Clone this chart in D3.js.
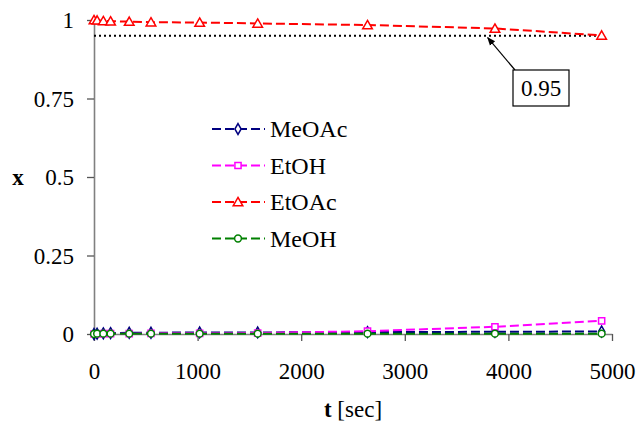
<!DOCTYPE html>
<html>
<head>
<meta charset="utf-8">
<script src="https://cdn.jsdelivr.net/npm/d3@7/dist/d3.min.js"></script>
<style>
  html, body { margin: 0; padding: 0; background: #fff; }
  svg, svg text { font-family: "Liberation Serif", "Times New Roman", serif !important; }
</style>
</head>
<body>
<svg id="chart" width="637" height="427"></svg>
<script>
// ---- data ----
const times   = [0, 30, 90, 160, 340, 550, 1020, 1580, 2640, 3870, 4900];
const meoac   = [0, 0.001, 0.002, 0.003, 0.004, 0.004, 0.005, 0.005, 0.006, 0.007, 0.008];
const etoh    = [0, 0.000, 0.001, 0.001, 0.001, 0.002, 0.002, 0.003, 0.009, 0.023, 0.042];
const etoac   = [1.0, 0.999, 0.997, 0.996, 0.995, 0.993, 0.992, 0.989, 0.984, 0.973, 0.951];
const meoh    = [0, 0.001, 0.001, 0.001, 0.001, 0.001, 0.001, 0.001, 0.001, 0.001, 0.001];
const seriesNames = ["MeOAc", "EtOH", "EtOAc", "MeOH"];
const seriesColors = ["#000080", "#FF00FF", "#FF0000", "#008000"];
const seriesSymbols = ["diamond", "square", "triangle", "circle"];
const xTicks = [0, 1000, 2000, 3000, 4000, 5000];
const yTicks = [0, 0.25, 0.5, 0.75, 1];
const yTickLabels = ["0", "0.25", "0.5", "0.75", "1"];
const refValue = 0.95;
const refLabel = "0.95";
const refArrowTime = 3800;

const allSeries = [meoac, etoh, etoac, meoh];

const svg = d3.select("#chart");
const x = d3.scaleLinear().domain([0, 5000]).range([94, 612]);
const y = d3.scaleLinear().domain([0, 1]).range([334, 20]);
const FS = 23;
const SERIF = "'Liberation Serif', 'Times New Roman', serif";

// axes
const yAxis = d3.axisLeft(y).tickValues(yTicks)
  .tickFormat((d, i) => yTickLabels[i]).tickSize(7).tickSizeOuter(0).tickPadding(13);
const gy = svg.append("g").attr("transform", `translate(${x(0)},0)`).call(yAxis);
const xAxis = d3.axisBottom(x).tickValues(xTicks).tickFormat(d3.format("d"))
  .tickSize(7).tickSizeOuter(0).tickPadding(22);
const gx = svg.append("g").attr("transform", `translate(0,${y(0)})`).call(xAxis);
[gx, gy].forEach(g => {
  g.attr("font-family", null).style("font-family", SERIF).attr("font-size", FS);
  g.select(".domain").attr("stroke", "#808080").attr("stroke-width", 1.6);
  g.selectAll(".tick line").attr("stroke", "#555").attr("stroke-width", 1.3);
  g.selectAll(".tick text").style("font-family", SERIF).attr("font-size", FS).attr("fill", "#000");
});
gy.selectAll(".tick text").attr("dy", "0.34em");

// axis titles
svg.append("text").attr("x", 18).attr("y", y(0.5)).attr("dy", "0.34em")
  .attr("text-anchor", "middle").attr("font-size", FS).attr("font-weight", "bold").text("x");
const tl = svg.append("text").attr("x", 353).attr("y", 417).attr("text-anchor", "middle")
  .attr("font-size", FS);
tl.append("tspan").attr("font-weight", "bold").text("t");
tl.append("tspan").text(" [sec]");

// reference dotted line
svg.append("line").attr("x1", x(0)).attr("x2", x(4900))
  .attr("y1", y(refValue)).attr("y2", y(refValue))
  .attr("stroke", "#000").attr("stroke-width", 2).attr("stroke-dasharray", "2,3");

// series
const line = d3.line().x((d, i) => x(times[i])).y(d => y(d));
const symType = { diamond: d3.symbolDiamond, square: d3.symbolSquare, triangle: d3.symbolTriangle, circle: d3.symbolCircle };
const symSize = { diamond: 34, square: 38, triangle: 40, circle: 36 };
allSeries.forEach((vals, k) => {
  const g = svg.append("g");
  g.append("path").datum(vals).attr("d", line).attr("fill", "none")
    .attr("stroke", seriesColors[k]).attr("stroke-width", 2).attr("stroke-dasharray", "9,4");
  const sym = d3.symbol().type(symType[seriesSymbols[k]]).size(symSize[seriesSymbols[k]]);
  g.selectAll("path.m").data(vals).enter().append("path").attr("class", "m")
    .attr("d", sym)
    .attr("transform", (d, i) => `translate(${x(times[i])},${y(d) + (seriesSymbols[k] === "triangle" ? 1 : 0)})`)
    .attr("fill", "#fff").attr("stroke", seriesColors[k]).attr("stroke-width", 1.5);
});

// legend
const legX = 212, legY0 = 129, legDy = 36.5;
seriesNames.forEach((name, k) => {
  const yy = legY0 + k * legDy;
  svg.append("line").attr("x1", legX).attr("x2", legX + 53).attr("y1", yy).attr("y2", yy)
    .attr("stroke", seriesColors[k]).attr("stroke-width", 2).attr("stroke-dasharray", "9,4");
  const sym = d3.symbol().type(symType[seriesSymbols[k]]).size(symSize[seriesSymbols[k]]);
  svg.append("path").attr("d", sym)
    .attr("transform", `translate(${legX + 26},${yy + (seriesSymbols[k] === "triangle" ? 1 : 0)})`)
    .attr("fill", "#fff").attr("stroke", seriesColors[k]).attr("stroke-width", 1.5);
  svg.append("text").attr("x", legX + 58).attr("y", yy).attr("dy", "0.34em")
    .attr("font-size", 24).text(name);
});

// annotation box with arrow
const bx = 513, by = 70, bw = 56, bh = 36;
svg.append("defs").append("marker").attr("id", "ah").attr("viewBox", "0 0 10 10")
  .attr("refX", 9).attr("refY", 5).attr("markerWidth", 7).attr("markerHeight", 7)
  .attr("orient", "auto").append("path").attr("d", "M0,1 L10,5 L0,9 Z").attr("fill", "#000");
svg.append("line").attr("x1", bx + 2).attr("y1", by).attr("x2", x(refArrowTime)).attr("y2", y(refValue) + 2)
  .attr("stroke", "#000").attr("stroke-width", 1.2).attr("marker-end", "url(#ah)");
svg.append("rect").attr("x", bx).attr("y", by).attr("width", bw).attr("height", bh)
  .attr("fill", "#fff").attr("stroke", "#000").attr("stroke-width", 1.2);
svg.append("text").attr("x", bx + bw / 2).attr("y", by + bh / 2).attr("dy", "0.34em")
  .attr("text-anchor", "middle").attr("font-size", FS).text(refLabel);
</script>
</body>
</html>
